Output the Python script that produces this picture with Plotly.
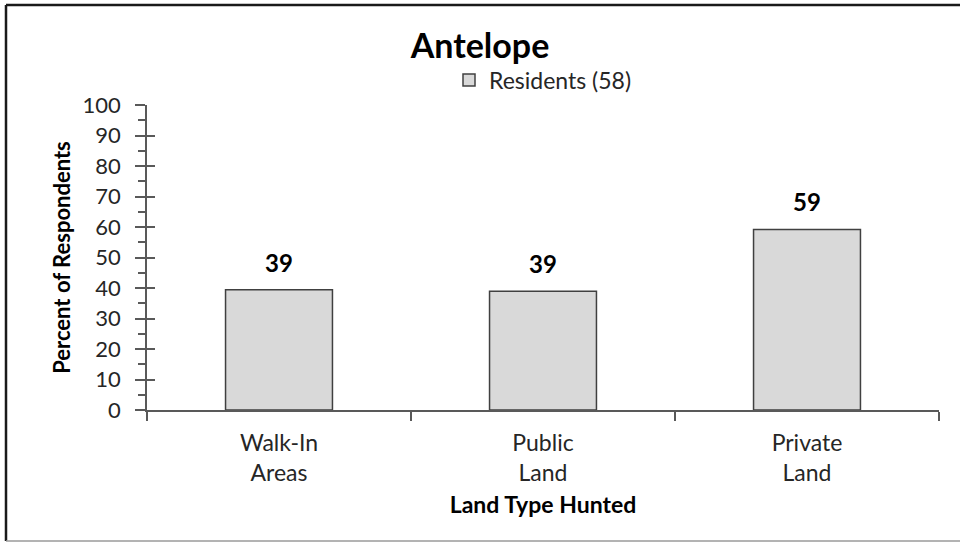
import plotly.graph_objects as go

categories = ["Walk-In<br>Areas", "Public<br>Land", "Private<br>Land"]
values = [39.4, 38.9, 59.2]
series_name = "Residents (58)"
title_text = "Antelope"
y_title = "Percent of Respondents"
x_title = "Land Type Hunted"

FONT = "Lato"
AXC = "#595959"
TXT = "#262626"

fig = go.Figure()
fig.add_trace(go.Bar(
    x=categories, y=values, name=series_name, width=0.405,
    marker=dict(color="#d9d9d9", line=dict(color="#404040", width=1.5)),
    showlegend=True,
))
# invisible helper trace so the overlay axis (inside ticks) is drawn
fig.add_trace(go.Scatter(x=categories, y=values, yaxis="y2", mode="none",
                         showlegend=False, hoverinfo="skip"))

for c, v in zip(categories, values):
    fig.add_annotation(x=c, y=v, text="<b>%d</b>" % round(v), showarrow=False,
                       yanchor="bottom", yshift=11,
                       font=dict(family=FONT, size=24, color="#000000"))

W, H = 960, 542
L, R, T, B = 147, 21, 105, 132
fig.update_layout(
    width=W, height=H,
    margin=dict(l=L, r=R, t=T, b=B),
    paper_bgcolor="white", plot_bgcolor="white",
    title=dict(text="<b>%s</b>" % title_text, x=0.5, xanchor="center",
               y=1 - 46 / H, yanchor="middle",
               font=dict(family=FONT, size=34, color="#000000")),
    legend=dict(orientation="h", x=0.5, xanchor="center", y=1 + 25 / 305,
                yanchor="middle", font=dict(family=FONT, size=23, color=TXT),
                itemwidth=30),
    font=dict(family=FONT),
    xaxis=dict(
        showline=True, linecolor=AXC, linewidth=1.5,
        ticks="outside", tickson="boundaries", ticklen=9, tickcolor=AXC, tickwidth=1.5,
        ticklabelstandoff=12,
        tickfont=dict(family=FONT, size=23, color=TXT),
        title=dict(text="<b>%s</b>" % x_title, standoff=12,
                   font=dict(family=FONT, size=23, color="#000000")),
        showgrid=False, zeroline=False,
    ),
    yaxis=dict(
        range=[0, 100], dtick=10, tick0=0,
        showline=True, linecolor=AXC, linewidth=1.5,
        ticks="outside", ticklen=10, tickcolor=AXC, tickwidth=1.5,
        ticklabelstandoff=10,
        minor=dict(dtick=5, ticks="outside", ticklen=7, tickcolor=AXC, tickwidth=1.5),
        tickfont=dict(family=FONT, size=22, color=TXT),
        title=dict(text="<b>%s</b>" % y_title, standoff=6,
                   font=dict(family=FONT, size=22, color="#000000")),
        showgrid=False, zeroline=False,
    ),
    yaxis2=dict(
        overlaying="y", side="left", range=[0, 100], dtick=10, tick0=0,
        ticks="inside", ticklen=8, tickcolor=AXC, tickwidth=1.5,
        showticklabels=False, showline=False, showgrid=False, zeroline=False,
    ),
    bargap=0.595,
)

# outer chart border (left/top dark, bottom light), in paper coordinates
pw, ph = W - L - R, H - T - B
def px(x):
    return (x - L) / pw
def py(y):
    return (H - B - y) / ph
fig.add_shape(type="line", xref="paper", yref="paper",
              x0=px(6), x1=px(6), y0=py(5), y1=py(541),
              line=dict(color="#1a1a1a", width=2.5))
fig.add_shape(type="line", xref="paper", yref="paper",
              x0=px(6), x1=px(960), y0=py(5), y1=py(5),
              line=dict(color="#1a1a1a", width=2.5))
fig.add_shape(type="line", xref="paper", yref="paper",
              x0=px(6), x1=px(960), y0=py(541), y1=py(541),
              line=dict(color="#9a9a9a", width=1.5))

fig.write_html("out.html", config={"displayModeBar": False},
               post_script="document.body.style.margin='0';")
